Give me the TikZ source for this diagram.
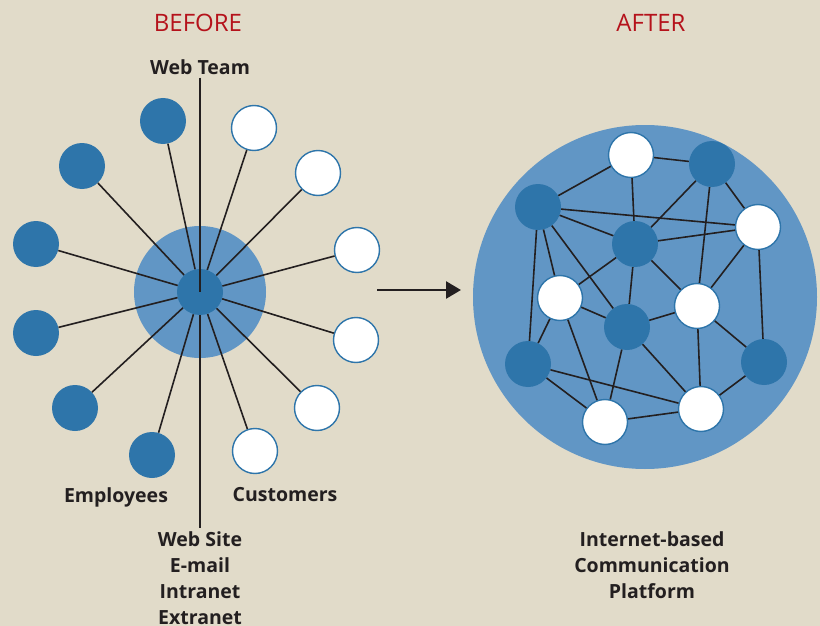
\documentclass[tikz,border=0pt]{standalone}
\usepackage{fontspec}
\setmainfont{Open Sans}
\usetikzlibrary{arrows.meta}

\definecolor{paper}{HTML}{E1DBC9}
\definecolor{pool}{HTML}{6196C5}
\definecolor{member}{HTML}{2E75AA}
\definecolor{heading}{HTML}{B5121B}
\definecolor{wire}{HTML}{231F20}

\tikzset{
    inner/.style={circle, fill=member, minimum size=46pt, inner sep=0pt},
    outer/.style={circle, fill=white, draw=member, line width=1.4pt, minimum size=45pt, inner sep=0pt},
    link/.style={draw=wire, line width=1.6pt},
    title/.style={font=\fontsize{24}{28}\selectfont, text=heading},
    tag/.style={font=\bfseries\fontsize{19.5}{26}\selectfont, text=wire, align=center, inner sep=3pt},
}

\begin{document}
\begin{tikzpicture}[x=1pt, y=-1pt]
    \fill[paper] (0,0) rectangle (820,626);
    \useasboundingbox (0,0) rectangle (820,626);

    \node[title] (before) at (198,23) {BEFORE};
    \node[title] (after) at (651,23) {AFTER};

    % before: everything goes through the web team
    \node[circle, fill=pool, minimum size=132pt] (ring) at (200,292) {};
    \node[inner] (hub) at (200,292) {};
    \node[tag] (webteam) at (200,67) {Web Team};
    \node[tag, anchor=north] (channels) at (200,528) {Web Site\\E-mail\\Intranet\\Extranet};
    \node[tag] (employees) at (116,497) {Employees};
    \node[tag] (customers) at (285,495) {Customers};

    \foreach \n/\x/\y in {e1/163/121, e2/82/166, e3/36/244, e4/36/333, e5/75/408, e6/152/455}
        \node[inner] (\n) at (\x,\y) {};
    \foreach \n/\x/\y in {c1/254/128, c2/318/173, c3/357/250, c4/356/340, c5/317/408, c6/255/451}
        \node[outer] (\n) at (\x,\y) {};

    \foreach \n in {e1,e2,e3,e4,e5,e6,c1,c2,c3,c4,c5,c6}
        \draw[link] (hub) -- (\n);
    \draw[link] (webteam) -- (hub.center);
    \draw[link] (hub) -- (channels);

    % arrow
    \coordinate (tail) at (377,290);
    \coordinate (head) at (461,290);
    \draw[draw=wire, line width=2.6pt, -{Triangle[length=15pt, width=17pt]}] (tail) -- (head);

    % after: a mesh
    \node[circle, fill=pool, minimum size=344pt] (cloud) at (645,297) {};
    \foreach \n/\x/\y in {d1/712/164, d2/538/207, d3/635/244, d4/627/327, d5/528/364, d6/764/362}
        \node[inner] (\n) at (\x,\y) {};
    \foreach \n/\x/\y in {w1/631/155, w2/758/227, w3/560/298, w4/697/306, w5/605/422, w6/701/409}
        \node[outer] (\n) at (\x,\y) {};

    \foreach \a/\b in {w1/d1, w1/d2, w1/d3, d1/d3, d1/w2, d1/w4, d2/w2, d2/d3, d2/w3, d2/d4,
                       d2/d5, d3/w2, d3/w3, d3/d4, d3/w4, w2/w4, w2/d6, w3/d4, w3/d5, w3/w5,
                       d4/w4, d4/w5, d4/w6, w4/w6, w4/d6, d5/w5, d5/w6, w5/w6, d6/w6}
        \draw[link] (\a) -- (\b);

    \node[tag, anchor=north] (platform) at (652,528) {Internet-based\\Communication\\Platform};
\end{tikzpicture}
\end{document}
